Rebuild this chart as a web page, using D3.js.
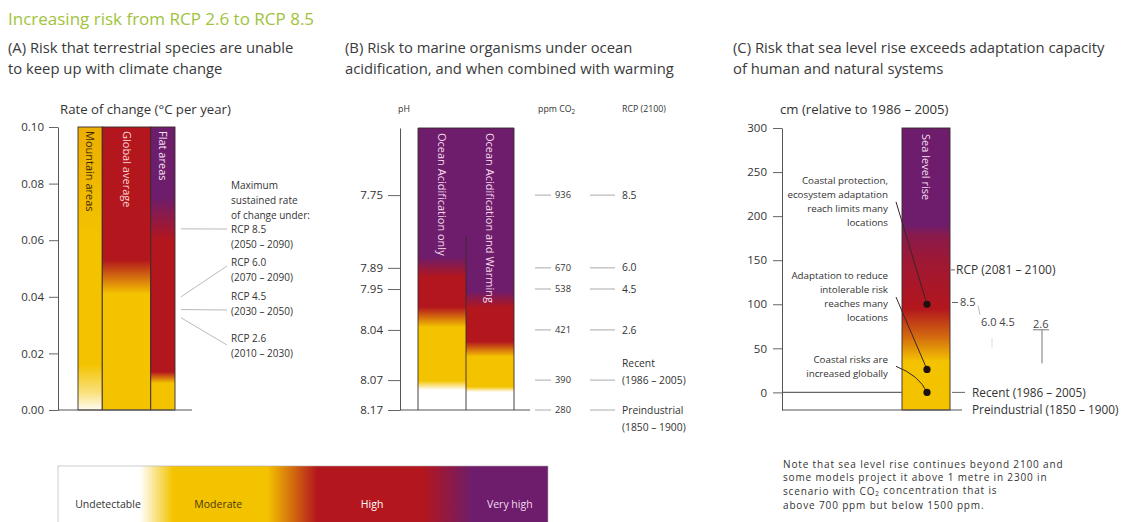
<!DOCTYPE html>
<html><head><meta charset="utf-8">
<script src="https://cdn.jsdelivr.net/npm/d3@7"></script>
<style>
body{margin:0;background:#fff}
svg text{font-family:"Open Sans","Liberation Sans",Arial,sans-serif}
</style>
</head><body>
<svg id="chart"></svg>
<script>
// ================= DATA =================
const mainTitle = "Increasing risk from RCP 2.6 to RCP 8.5";
const riskLevels = ["Undetectable", "Moderate", "High", "Very high"];
const riskColors = ["#ffffff", "#f4c300", "#b3161d", "#6d1d6b"];

// (A) terrestrial species
const titleA = ["(A) Risk that terrestrial species are unable", "to keep up with climate change"];
const axisLabelA = "Rate of change (°C per year)";
const rateTicks = [0, 0.02, 0.04, 0.06, 0.08, 0.10];
const speciesGroups = ["Mountain areas", "Global average", "Flat areas"];
// [rate, risk level 0..3]
const speciesRisk = [
  [[0, 0.05], [0.006, 0.5], [0.016, 1], [0.06, 1], [0.10, 1.12]],
  [[0, 1], [0.041, 1], [0.053, 2], [0.10, 2]],
  [[0, 1], [0.0095, 1], [0.0135, 2], [0.060, 2], [0.075, 3], [0.10, 3]]
];
const introA = ["Maximum", "sustained rate", "of change under:"];
const rcpRateNames = ["RCP 8.5", "RCP 6.0", "RCP 4.5", "RCP 2.6"];
const rcpRatePeriods = ["(2050 – 2090)", "(2070 – 2090)", "(2030 – 2050)", "(2010 – 2030)"];
const rcpRates = [0.064, 0.040, 0.0355, 0.0326];

// (B) marine organisms
const titleB = ["(B) Risk to marine organisms under ocean", "acidification, and when combined with warming"];
const phTicks = [8.17, 8.07, 8.04, 7.95, 7.89, 7.75];
const phTop = 7.62;
const co2Ppm = ["280", "390", "421", "538", "670", "936"];
const rcp2100 = [["Preindustrial", "(1850 – 1900)"], ["Recent", "(1986 – 2005)"], ["2.6"], ["4.5"], ["6.0"], ["8.5"]];
const marineGroups = ["Ocean Acidification only", "Ocean Acidification and Warming"];
// [pH, risk level]
const marineRisk = [
  [[8.17, 0], [8.103, 0], [8.072, 1], [8.034, 1], [7.99, 2], [7.917, 2], [7.869, 3], [7.62, 3]],
  [[8.17, 0], [8.11, 0], [8.092, 1], [8.056, 1], [8.047, 2], [7.991, 2], [7.954, 3], [7.62, 3]]
];
const dividerTopPh = 7.83;

// (C) sea level rise
const titleC = ["(C) Risk that sea level rise exceeds adaptation capacity", "of human and natural systems"];
const axisLabelC = "cm (relative to 1986 – 2005)";
const seaTicks = [0, 50, 100, 150, 200, 250, 300];
const preindustrialCm = -20;
const seaGroup = "Sea level rise";
const seaRisk = [[-20, 1], [35, 1], [62, 1.5], [95, 2], [150, 2.3], [178, 2.6], [190, 3], [300, 3]];
const seaThresholds = [100, 26, 0];
const seaThresholdLabels = [
  ["Coastal protection,", "ecosystem adaptation", "reach limits many", "locations"],
  ["Adaptation to reduce", "intolerable risk", "reaches many", "locations"],
  ["Coastal risks are", "increased globally"]
];
const seaLabelTopCm = [240, 132, 37.5];
const rcpSeaTitle = "RCP (2081 – 2100)";
const rcpSeaTitleCm = 139;
const rcpSeaNames = ["8.5", "6.0 4.5", "2.6"];
const rcpSeaCm = [102, 80, 77];
const rcpSeaRanges = [[51, 62], [33, 71]];
const recentLabel = "Recent (1986 – 2005)";
const preindLabel = "Preindustrial (1850 – 1900)";
const noteLines = ["Note that sea level rise continues beyond 2100 and",
  "some models project it above 1 metre in 2300 in",
  "scenario with CO|2| concentration that is",
  "above 700 ppm but below 1500 ppm."];

// ================= LAYOUT =================
const W = 1138, H = 522;
const A = {axisX: 58, top: 127, bottom: 410, col0: 78, col1: 175, baseX1: 192, tick: 9, labelX: 231, leadX0: 181, leadX1: 227};
const colWeightsA = [1, 2, 1];
const labelYA = {intro: 185, rcp: [229, 262, 296, 338], lead: [229, 266, 310, 345], gap: 15};
const B = {axisX: 400, top: 128, bottom: 410, col0: 418, col1: 514, baseX1: 530, tick: 12,
  dash1: [535, 551], ppmX: 555, dash2: [590, 615], rcpX: 622};
const phFrac = [0, 0.106, 0.284, 0.429, 0.504, 0.762, 1];
const rcpAnchorLine = [0, 1, 0, 0, 0, 0];
const C = {axisX: 782, top: 128, bottom: 410, col0: 902, col1: 950, baseX1: 962, tick: 9,
  labelRight: 888, leadX: 896, lineGap: 14, textX: 972};
const rcpSeaX = [960, 981, 1033];
const rcpRangeX = [992, 1042];
const L = {x0: 58, x1: 548, y0: 466, h: 62, textY: 504};
const legendStops = [[0, 0], [0.167, 0], [0.235, 1], [0.427, 1], [0.529, 2], [0.745, 2], [0.847, 3], [1, 3]];
const legendLabelPos = [0.102, 0.327, 0.641, 0.922];
const legendLabelColors = ["#333", "#4a3800", "#fff", "#f3dcf0"];
const FS = {title: 17, panel: 14.8, axis: 13.2, head: 8.8, tick: 11.5, label: 10, col: 11,
  small: 9.3, bLab: 10.3, cLab: 9.8, cRef: 11.8, cRcp: 12, cNum: 11, note: 10, legend: 10.5};

// ================= DRAW =================
const svg = d3.select("#chart").attr("width", W).attr("height", H);
svg.append("rect").attr("width", W).attr("height", H).attr("fill", "#fff");
const defs = svg.append("defs");
const riskColor = d3.scaleLinear().domain([0, 1, 2, 3]).range(riskColors)
  .interpolate(d3.interpolateRgb).clamp(true);

function gradient(id, stops, scale, a, b, horizontal) {
  const g = defs.append("linearGradient").attr("id", id).attr("gradientUnits", "userSpaceOnUse");
  if (horizontal) g.attr("x1", a).attr("x2", b).attr("y1", 0).attr("y2", 0);
  else g.attr("x1", 0).attr("x2", 0).attr("y1", a).attr("y2", b);
  const s = stops.map(d => ({o: Math.max(0, Math.min(1, (scale(d[0]) - a) / (b - a))), c: riskColor(d[1])}))
    .sort((p, q) => p.o - q.o);
  g.selectAll("stop").data(s).join("stop").attr("offset", d => d.o).attr("stop-color", d => d.c);
  return `url(#${id})`;
}
function text(g, x, y, s, size, fill, anchor) {
  return g.append("text").attr("x", x).attr("y", y).attr("dy", "0.35em")
    .attr("font-size", size).attr("fill", fill || "#333")
    .attr("text-anchor", anchor || "start").text(s);
}
function styleAxis(g) {
  g.selectAll("path.domain").attr("stroke", "#555").attr("stroke-width", 1);
  g.selectAll(".tick line").attr("stroke", "#666");
  g.selectAll(".tick text").attr("font-size", FS.tick).attr("fill", "#333")
    .attr("font-family", "'Open Sans', 'Liberation Sans', sans-serif");
}
function vertLabel(g, cx, y, s, fill, size) {
  g.append("text").attr("transform", `translate(${cx},${y}) rotate(90)`)
    .attr("dy", "0.35em").attr("font-size", size).attr("fill", fill).text(s);
}

// title
text(svg, 8, 19, mainTitle, FS.title, "#9fc33c");

// ---------- Panel A ----------
const gA = svg.append("g");
titleA.forEach((t, i) => text(gA, 8, 48 + i * 21, t, FS.panel, "#3a3a3a"));
text(gA, 60, 109, axisLabelA, FS.axis, "#333");
const yA = d3.scaleLinear().domain([0, 0.10]).range([A.bottom, A.top]);
const cumA = d3.cumsum([0, ...colWeightsA]);
const xA = d3.scaleLinear().domain([0, d3.sum(colWeightsA)]).range([A.col0, A.col1]);
speciesGroups.forEach((name, i) => {
  const x0 = xA(cumA[i]), x1 = xA(cumA[i + 1]);
  const fill = gradient("gA" + i, speciesRisk[i], yA, A.top, A.bottom, false);
  gA.append("rect").attr("x", x0).attr("y", A.top).attr("width", x1 - x0)
    .attr("height", A.bottom - A.top).attr("fill", fill).attr("stroke", "#3a2a2a").attr("stroke-width", 0.9);
  const fc = i === 0 ? "#3d2a00" : i === 1 ? "#f7d2d2" : "#f3e4f2";
  vertLabel(gA, (x0 + x1) / 2, A.top + 4, name, fc, FS.col);
});
gA.append("line").attr("x1", A.axisX).attr("x2", A.baseX1).attr("y1", A.bottom).attr("y2", A.bottom)
  .attr("stroke", "#555");
const axA = gA.append("g").attr("transform", `translate(${A.axisX},0)`)
  .call(d3.axisLeft(yA).tickValues(rateTicks).tickFormat(d3.format(".2f")).tickSize(A.tick).tickSizeOuter(0).tickPadding(5));
styleAxis(axA);
introA.forEach((t, i) => text(gA, A.labelX, labelYA.intro + i * labelYA.gap, t, FS.label, "#333"));
rcpRateNames.forEach((n, i) => {
  text(gA, A.labelX, labelYA.rcp[i], n, FS.label, "#333");
  text(gA, A.labelX, labelYA.rcp[i] + labelYA.gap, rcpRatePeriods[i], FS.label, "#333");
  gA.append("line").attr("x1", A.leadX0).attr("y1", yA(rcpRates[i]))
    .attr("x2", A.leadX1).attr("y2", labelYA.lead[i]).attr("stroke", "#bbb").attr("stroke-width", 1);
});

// ---------- Panel B ----------
const gB = svg.append("g");
titleB.forEach((t, i) => text(gB, 345, 48 + i * 21, t, FS.panel, "#3a3a3a"));
text(gB, B.axisX - 2, 109, "pH", FS.head, "#333");
const ppmHead = gB.append("text").attr("x", 538).attr("y", 109).attr("dy", "0.35em")
  .attr("font-size", FS.head).attr("fill", "#333");
ppmHead.append("tspan").text("ppm CO");
ppmHead.append("tspan").attr("font-size", 6.3).attr("dy", "0.35em").text("2");
text(gB, B.rcpX, 109, "RCP (2100)", FS.head, "#333");
const phDomain = [...phTicks, phTop];
const yB = d3.scaleLinear().domain(phDomain).range(phFrac.map(f => B.bottom - f * (B.bottom - B.top)));
const xB = d3.scaleBand().domain(marineGroups).range([B.col0, B.col1]);
marineGroups.forEach((name, i) => {
  const x0 = xB(name), w = xB.bandwidth();
  const fill = gradient("gB" + i, marineRisk[i], yB, B.top, B.bottom, false);
  gB.append("rect").attr("x", x0).attr("y", B.top).attr("width", w)
    .attr("height", B.bottom - B.top).attr("fill", fill);
  vertLabel(gB, x0 + w / 2, B.top + 5, name, "#f6d8ec", FS.col);
});
// borders
gB.append("path").attr("fill", "none").attr("stroke", "#3a2a2a").attr("stroke-width", 0.9)
  .attr("d", `M${B.col0},${B.bottom}V${B.top}H${B.col1}V${B.bottom}`);
gB.append("line").attr("x1", xB(marineGroups[1])).attr("x2", xB(marineGroups[1]))
  .attr("y1", yB(dividerTopPh)).attr("y2", B.bottom).attr("stroke", "#3a2a2a").attr("stroke-width", 0.9);
gB.append("line").attr("x1", B.axisX).attr("x2", B.baseX1).attr("y1", B.bottom).attr("y2", B.bottom).attr("stroke", "#555");
const axB = gB.append("g").attr("transform", `translate(${B.axisX},0)`)
  .call(d3.axisLeft(yB).tickValues(phTicks).tickFormat(d3.format(".2f")).tickSize(B.tick).tickSizeOuter(0).tickPadding(5));
styleAxis(axB);
phTicks.forEach((ph, i) => {
  const y = yB(ph);
  gB.append("line").attr("x1", B.dash1[0]).attr("x2", B.dash1[1]).attr("y1", y).attr("y2", y).attr("stroke", "#aaa");
  text(gB, B.ppmX, y, co2Ppm[i], FS.small, "#333");
  gB.append("line").attr("x1", B.dash2[0]).attr("x2", B.dash2[1]).attr("y1", y).attr("y2", y).attr("stroke", "#aaa");
  rcp2100[i].forEach((t, j) => text(gB, B.rcpX, y + (j - rcpAnchorLine[i]) * 17, t, FS.bLab, "#333"));
});

// ---------- Panel C ----------
const gC = svg.append("g");
titleC.forEach((t, i) => text(gC, 733, 48 + i * 21, t, FS.panel, "#3a3a3a"));
text(gC, 780, 109, axisLabelC, FS.axis, "#333");
const yC = d3.scaleLinear().domain([preindustrialCm, 300]).range([C.bottom, C.top]);
const xC = d3.scaleBand().domain([seaGroup]).range([C.col0, C.col1]);
const fillC = gradient("gC0", seaRisk, yC, C.top, C.bottom, false);
gC.append("rect").attr("x", xC(seaGroup)).attr("y", C.top).attr("width", xC.bandwidth())
  .attr("height", C.bottom - C.top).attr("fill", fillC).attr("stroke", "#3a2a2a").attr("stroke-width", 0.9);
vertLabel(gC, xC(seaGroup) + xC.bandwidth() / 2, C.top + 6, seaGroup, "#f3dcf0", FS.col);
// recent (0) and preindustrial lines
gC.append("line").attr("x1", C.axisX).attr("x2", C.col0).attr("y1", yC(0)).attr("y2", yC(0)).attr("stroke", "#666").attr("stroke-width", 1.3);
gC.append("line").attr("x1", C.col1 + 2).attr("x2", C.col1 + 15).attr("y1", yC(0)).attr("y2", yC(0)).attr("stroke", "#666");
gC.append("line").attr("x1", C.axisX).attr("x2", C.baseX1).attr("y1", yC(preindustrialCm)).attr("y2", yC(preindustrialCm)).attr("stroke", "#555");
const axC = gC.append("g").attr("transform", `translate(${C.axisX},0)`)
  .call(d3.axisLeft(yC).tickValues(seaTicks).tickFormat(d3.format("d")).tickSize(C.tick).tickSizeOuter(0).tickPadding(6));
styleAxis(axC);
text(gC, C.textX, yC(0), recentLabel, FS.cRef, "#333");
text(gC, C.textX, yC(preindustrialCm), preindLabel, FS.cRef, "#333");
// threshold labels and leaders
const dotX = xC(seaGroup) + xC.bandwidth() / 2 + 1;
seaThresholdLabels.forEach((lines, i) => {
  const y0 = yC(seaLabelTopCm[i]);
  lines.forEach((t, j) => text(gC, C.labelRight, y0 + j * C.lineGap, t, FS.cLab, "#333", "end"));
  const ya = y0 + (lines.length - 1) * C.lineGap / 2;
  const yd = yC(seaThresholds[i]);
  const p = d3.path();
  p.moveTo(C.leadX, ya);
  p.quadraticCurveTo(C.leadX + (dotX - C.leadX) * (i === 2 ? 0.75 : 0.5), i === 2 ? ya + (yd - ya) * 0.35 : (ya + yd) / 2, dotX, yd);
  gC.append("path").attr("d", p.toString()).attr("fill", "none").attr("stroke", "#3a2626").attr("stroke-width", 1);
});
gC.selectAll("circle.thr").data(seaThresholds).join("circle").attr("class", "thr")
  .attr("cx", dotX).attr("cy", d => yC(d)).attr("r", 3.6).attr("fill", "#1c1010");
// RCP labels
gC.append("line").attr("x1", C.col1 + 1).attr("x2", C.col1 + 5).attr("y1", yC(rcpSeaTitleCm)).attr("y2", yC(rcpSeaTitleCm)).attr("stroke", "#666");
text(gC, C.col1 + 6, yC(rcpSeaTitleCm), rcpSeaTitle, FS.cRcp, "#333");
gC.append("line").attr("x1", C.col1 + 2).attr("x2", C.col1 + 8).attr("y1", yC(rcpSeaCm[0])).attr("y2", yC(rcpSeaCm[0])).attr("stroke", "#666");
rcpSeaNames.forEach((n, i) => text(gC, rcpSeaX[i], yC(rcpSeaCm[i]), n, FS.cNum, "#444"));
gC.append("line").attr("x1", rcpSeaX[0] + 18).attr("y1", yC(rcpSeaCm[0]) + 3).attr("x2", rcpSeaX[1] - 1).attr("y2", yC(rcpSeaCm[1]) - 7)
  .attr("stroke", "#bbb");
rcpSeaRanges.forEach((r, i) => {
  gC.append("line").attr("x1", rcpRangeX[i]).attr("x2", rcpRangeX[i]).attr("y1", yC(r[0])).attr("y2", yC(r[1]))
    .attr("stroke", i === 0 ? "#ddd" : "#777");
});
gC.append("line").attr("x1", rcpRangeX[1] - 9).attr("x2", rcpRangeX[1] + 7).attr("y1", yC(rcpSeaRanges[1][1])).attr("y2", yC(rcpSeaRanges[1][1])).attr("stroke", "#777");
// note
noteLines.forEach((t, i) => {
  const el = gC.append("text").attr("x", 783).attr("y", 464 + i * 13.8).attr("dy", "0.35em")
    .attr("font-size", FS.note).attr("letter-spacing", 0.85).attr("fill", "#333");
  t.split("|").forEach((part, k) => {
    if (k === 1) el.append("tspan").attr("font-size", 6.5).attr("dy", "0.2em").text(part);
    else if (k === 2) el.append("tspan").attr("dy", "-0.2em").text(part);
    else el.append("tspan").text(part);
  });
});

// ---------- Legend ----------
const xL = d3.scaleLinear().domain([0, 1]).range([L.x0, L.x1]);
const fillL = gradient("gL", legendStops, xL, L.x0, L.x1, true);
svg.append("rect").attr("x", L.x0).attr("y", L.y0).attr("width", L.x1 - L.x0).attr("height", L.h)
  .attr("fill", fillL).attr("stroke", "#aaa").attr("stroke-width", 0.6);
riskLevels.forEach((r, i) => text(svg, xL(legendLabelPos[i]), L.textY, r, FS.legend, legendLabelColors[i], "middle"));
</script>
</body></html>
